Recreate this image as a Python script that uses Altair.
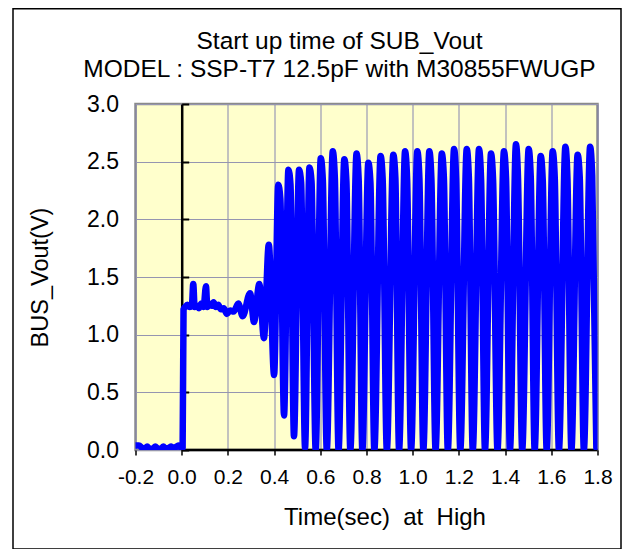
import altair as alt
import pandas as pd

# ---- data ----
times = [
    -0.200, -0.185, -0.172, -0.160, -0.150, -0.138, -0.125, -0.115, -0.102, -0.090,
    -0.080, -0.068, -0.055, -0.045, -0.035, -0.022, -0.012, -0.003, 0.004, 0.008,
    0.015, 0.025, 0.035, 0.044, 0.050, 0.056, 0.066, 0.075, 0.085, 0.095,
    0.105, 0.111, 0.120, 0.130, 0.138, 0.148, 0.158, 0.170, 0.182, 0.195,
    0.210, 0.225, 0.245, 0.264, 0.296, 0.313, 0.336, 0.356, 0.377, 0.400,
    0.418, 0.427, 0.443, 0.462, 0.471, 0.486, 0.508, 0.517, 0.534, 0.553,
    0.562, 0.580, 0.602, 0.611, 0.628, 0.654, 0.663, 0.679, 0.704, 0.713,
    0.730, 0.757, 0.766, 0.782, 0.808, 0.817, 0.834, 0.861, 0.870, 0.888,
    0.916, 0.925, 0.941, 0.967, 0.976, 0.993, 1.020, 1.029, 1.046, 1.072,
    1.081, 1.099, 1.126, 1.135, 1.152, 1.179, 1.188, 1.206, 1.234, 1.243,
    1.260, 1.287, 1.296, 1.313, 1.339, 1.348, 1.367, 1.395, 1.404, 1.421,
    1.447, 1.456, 1.474, 1.502, 1.511, 1.528, 1.554, 1.563, 1.580, 1.606,
    1.615, 1.633, 1.661, 1.670, 1.687, 1.714, 1.723, 1.741, 1.768, 1.777,
    1.795,
]
volts = [
    0.04, 0.04, 0.02, 0.01, 0.03, 0.01, 0.01, 0.03, 0.01, 0.01,
    0.03, 0.01, 0.02, 0.03, 0.01, 0.03, 0.04, 0.02, 0.02, 1.22,
    1.24, 1.26, 1.24, 1.25, 1.44, 1.24, 1.25, 1.23, 1.27, 1.24,
    1.42, 1.24, 1.27, 1.25, 1.28, 1.24, 1.26, 1.22, 1.23, 1.18,
    1.21, 1.20, 1.27, 1.16, 1.36, 1.11, 1.44, 0.97, 1.78, 0.65,
    2.30, 2.18, 0.30, 2.43, 2.30, 0.12, 2.43, 2.32, 0.02, 2.45,
    2.33, 0.00, 2.53, 2.34, 0.00, 2.59, 2.36, 0.00, 2.52, 2.33,
    0.00, 2.57, 2.35, 0.00, 2.49, 2.32, 0.00, 2.55, 2.35, 0.00,
    2.56, 2.36, 0.00, 2.59, 2.34, 0.00, 2.59, 2.36, 0.00, 2.59,
    2.35, 0.00, 2.57, 2.36, 0.00, 2.61, 2.35, 0.00, 2.61, 2.37,
    0.00, 2.61, 2.35, 0.00, 2.57, 2.34, 0.00, 2.59, 2.36, 0.00,
    2.65, 2.35, 0.00, 2.61, 2.37, 0.00, 2.55, 2.34, 0.00, 2.59,
    2.36, 0.00, 2.63, 2.35, 0.00, 2.56, 2.37, 0.00, 2.63, 2.38,
    0.02,
]
x_ticks = [-0.2, 0.0, 0.2, 0.4, 0.6, 0.8, 1.0, 1.2, 1.4, 1.6, 1.8]
y_ticks = [0.0, 0.5, 1.0, 1.5, 2.0, 2.5, 3.0]
title_lines = ["Start up time of SUB_Vout", "MODEL : SSP-T7 12.5pF with M30855FWUGP"]
x_title = "Time(sec)\u00a0 at\u00a0 High"
y_title = "BUS_Vout(V)"

FONT = "Liberation Sans"
W, H = 462, 346

df = pd.DataFrame({"t": times, "v": volts})
base_axis_line = pd.DataFrame({"x0": [0.0], "x1": [1.8], "y0": [0.0]})
title_df = pd.DataFrame({"txt": ["\n".join(title_lines)]})

xs = alt.Scale(domain=[-0.2, 1.8], nice=False, zero=False)
ys = alt.Scale(domain=[0.0, 3.0], nice=False, zero=False)

label_expr = "datum.value < 0 ? '-' + format(-datum.value, '.1f') : format(datum.value, '.1f')"

x_axis = alt.Axis(
    values=x_ticks, labelExpr=label_expr, title=x_title,
    grid=True, gridColor="#8585B0", gridWidth=1,
    domain=False, tickColor="black", tickSize=5, tickWidth=1.5,
    labelFont=FONT, labelFontSize=21, labelColor="black", labelPadding=22,
    labelBaseline="middle", labelFlush=False, labelOverlap=False,
    titleFont=FONT, titleFontSize=24, titleFontWeight="normal", titleColor="black",
    titleX=249, titleY=67, titleBaseline="middle", titleAlign="center",
)

y_axis_main = alt.Axis(
    values=y_ticks, labelExpr=label_expr, title=y_title,
    grid=True, gridColor="#9595B0", gridWidth=1,
    domain=False, ticks=False, tickSize=0,
    labelFont=FONT, labelFontSize=23, labelColor="black", labelPadding=17,
    labelFlush=False, labelOverlap=False,
    titleFont=FONT, titleFontSize=23.5, titleFontWeight="normal", titleColor="black",
    titleX=-95, titleY=173, titleAngle=-90, titleBaseline="middle", titleAlign="center",
)

y_axis_zero = alt.Axis(
    values=y_ticks, orient="right", offset=-415.8,
    grid=False, labels=False, title=None,
    domain=True, domainColor="black", domainWidth=2.5,
    tickColor="black", tickSize=7, tickWidth=2,
)

frame = alt.Chart(pd.DataFrame({"k": [0]})).mark_rect(
    filled=False, stroke="black", strokeWidth=1.5
).encode(
    x=alt.value(-122.5), x2=alt.value(485.5), y=alt.value(-95.2), y2=alt.value(445)
)

title_text = alt.Chart(title_df).mark_text(
    font=FONT, fontSize=24.5, color="black", align="center", baseline="alphabetic",
    lineBreak="\n", lineHeight=28,
).encode(
    text="txt:N", x=alt.value(204), y=alt.value(-55)
)

axis_rule = alt.Chart(base_axis_line).mark_rule(color="black", strokeWidth=2.5).encode(
    x=alt.X("x0:Q", scale=xs, axis=x_axis),
    x2="x1:Q",
    y=alt.Y("y0:Q", scale=ys, axis=y_axis_zero),
)

line = alt.Chart(df).mark_line(
    color="#0000FF", strokeWidth=6.5, interpolate="monotone", clip=True,
    strokeJoin="round", strokeCap="round",
).encode(
    x=alt.X("t:Q", scale=xs, axis=x_axis),
    y=alt.Y("v:Q", scale=ys, axis=y_axis_main),
    order="t:Q",
)

chart = alt.layer(axis_rule, line, frame, title_text).resolve_axis(y="independent").properties(
    width=W, height=H,
    autosize=alt.AutoSizeParams(type="none"),
    padding={"left": 127.5, "top": 96, "right": 25.5, "bottom": 99},
    background="white",
).configure_view(
    fill="#FFFFCC", stroke="#8A8A8A", strokeWidth=2.5
)

chart.save("out.html", embed_options={"renderer": "svg", "actions": False})
